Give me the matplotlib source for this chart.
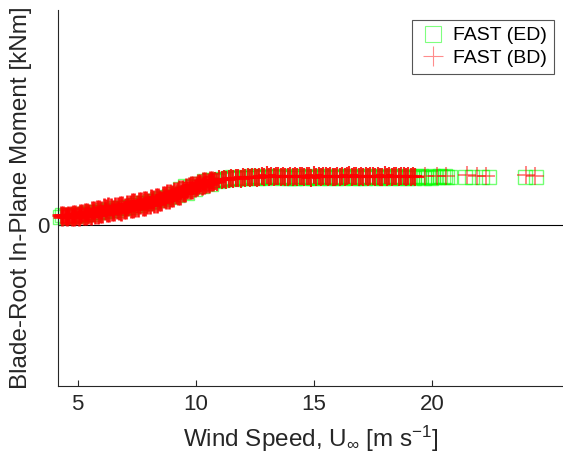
import matplotlib
matplotlib.use("Agg")
import matplotlib.pyplot as plt

plt.rcParams["font.family"] = ["Liberation Sans", "DejaVu Sans"]
plt.rcParams["mathtext.fontset"] = "custom"
plt.rcParams["mathtext.rm"] = "Liberation Sans"
plt.rcParams["mathtext.it"] = "Liberation Sans:italic"
plt.rcParams["mathtext.bf"] = "Liberation Sans:bold"

# ---- ElastoDyn blade model: wind speed [m/s] and in-plane root moment [kNm]
wind_ed = [
    4.25, 4.35, 4.45, 4.55, 4.65, 4.75, 4.85, 4.95, 5.05, 5.15,
    5.25, 5.35, 5.45, 5.55, 5.65, 5.75, 5.85, 5.95, 6.05, 6.15,
    6.25, 6.35, 6.45, 6.55, 6.65, 6.75, 6.85, 6.95, 7.05, 7.15,
    7.25, 7.35, 7.45, 7.55, 7.65, 7.75, 7.85, 7.95, 8.05, 8.15,
    8.25, 8.35, 8.45, 8.55, 8.65, 8.75, 8.85, 8.95, 9.05, 9.15,
    9.25, 9.35, 9.45, 9.55, 9.65, 9.75, 9.85, 9.95, 10.05, 10.15,
    10.25, 10.35, 10.45, 10.55, 10.65, 10.75, 10.85, 10.95, 11.05, 11.15,
    11.25, 11.35, 11.45, 11.55, 11.65, 11.75, 11.85, 11.95, 12.05, 12.15,
    12.25, 12.35, 12.45, 12.55, 12.65, 12.75, 12.85, 12.95, 13.05, 13.15,
    13.25, 13.35, 13.45, 13.55, 13.65, 13.75, 13.85, 13.95, 14.05, 14.15,
    14.25, 14.35, 14.45, 14.55, 14.65, 14.75, 14.85, 14.95, 15.05, 15.15,
    15.25, 15.35, 15.45, 15.55, 15.65, 15.75, 15.85, 15.95, 16.05, 16.15,
    16.25, 16.35, 16.45, 16.55, 16.65, 16.75, 16.85, 16.95, 17.05, 17.15,
    17.25, 17.35, 17.45, 17.55, 17.65, 17.75, 17.85, 17.95, 18.05, 18.15,
    18.25, 18.35, 18.45, 18.55, 18.65, 18.75, 18.85, 18.95, 19.05, 19.15,
    19.25, 19.35, 19.45, 19.55, 19.65, 19.75, 19.85, 19.95, 20.05, 20.15,
    20.25, 20.35, 20.45, 20.55, 20.65, 20.75,
    21.4, 21.7, 22.1, 22.4, 23.95, 24.4,
]
moment_ed = [
    420, 490, 452, 525, 400, 508, 488, 455, 545, 482,
    521, 590, 568, 638, 575, 661, 666, 646, 740, 702,
    707, 799, 761, 844, 756, 851, 850, 827, 925, 897,
    911, 1016, 985, 1079, 990, 1095, 1097, 1077, 1183, 1158,
    1176, 1284, 1259, 1361, 1290, 1410, 1428, 1424, 1547, 1538,
    1486, 1815, 1663, 1940, 1610, 1908, 1888, 1819, 2060, 1961,
    1972, 2185, 2096, 2265, 2070, 2240, 2230, 2196, 2318, 2271,
    2281, 2366, 2331, 2392, 2310, 2375, 2360, 2330, 2392, 2347,
    2370, 2440, 2390, 2450, 2350, 2420, 2400, 2360, 2430, 2380,
    2380, 2445, 2385, 2440, 2355, 2425, 2395, 2365, 2435, 2375,
    2365, 2435, 2395, 2450, 2345, 2415, 2405, 2370, 2440, 2385,
    2375, 2440, 2390, 2445, 2350, 2420, 2400, 2360, 2430, 2380,
    2370, 2450, 2385, 2440, 2355, 2425, 2395, 2365, 2435, 2375,
    2380, 2440, 2395, 2450, 2350, 2415, 2405, 2360, 2430, 2385,
    2370, 2445, 2390, 2440, 2345, 2420, 2400, 2370, 2440, 2380,
    2375, 2435, 2395, 2450, 2360, 2425, 2395, 2365, 2430, 2385,
    2380, 2440, 2390, 2430, 2400, 2410,
    2400, 2410, 2390, 2400, 2400, 2400,
]

# ---- BeamDyn blade model: wind speed [m/s] and in-plane root moment [kNm]
wind_bd = [
    4.30, 4.35, 4.40, 4.45, 4.50, 4.55, 4.60, 4.65, 4.70, 4.75,
    4.80, 4.85, 4.90, 4.95, 5.00, 5.05, 5.10, 5.15, 5.20, 5.25,
    5.30, 5.35, 5.40, 5.45, 5.50, 5.55, 5.60, 5.65, 5.70, 5.75,
    5.80, 5.85, 5.90, 5.95, 6.00, 6.05, 6.10, 6.15, 6.20, 6.25,
    6.30, 6.35, 6.40, 6.45, 6.50, 6.55, 6.60, 6.65, 6.70, 6.75,
    6.80, 6.85, 6.90, 6.95, 7.00, 7.05, 7.10, 7.15, 7.20, 7.25,
    7.30, 7.35, 7.40, 7.45, 7.50, 7.55, 7.60, 7.65, 7.70, 7.75,
    7.80, 7.85, 7.90, 7.95, 8.00, 8.05, 8.10, 8.15, 8.20, 8.25,
    8.30, 8.35, 8.40, 8.45, 8.50, 8.55, 8.60, 8.65, 8.70, 8.75,
    8.80, 8.85, 8.90, 8.95, 9.00, 9.05, 9.10, 9.15, 9.20, 9.25,
    9.30, 9.35, 9.40, 9.45, 9.50, 9.55, 9.60, 9.65, 9.70, 9.75,
    9.80, 9.85, 9.90, 9.95, 10.00, 10.05, 10.10, 10.15, 10.20, 10.25,
    10.30, 10.35, 10.40, 10.45, 10.50, 10.55, 10.60, 10.65, 10.70, 10.75,
    10.8, 10.9, 11.0, 11.1, 11.2, 11.3, 11.4, 11.5, 11.6, 11.7,
    11.8, 11.9, 12.0, 12.1, 12.2, 12.3, 12.4, 12.5, 12.6, 12.7,
    12.8, 12.9, 13.0, 13.1, 13.2, 13.3, 13.4, 13.5, 13.6, 13.7,
    13.8, 13.9, 14.0, 14.1, 14.2, 14.3, 14.4, 14.5, 14.6, 14.7,
    14.8, 14.9, 15.0, 15.1, 15.2, 15.3, 15.4, 15.5, 15.6, 15.7,
    15.8, 15.9, 16.0, 16.1, 16.2, 16.3, 16.4, 16.5, 16.6, 16.7,
    16.8, 16.9, 17.0, 17.1, 17.2, 17.3, 17.4, 17.5, 17.6, 17.7,
    17.8, 17.9, 18.0, 18.1, 18.2, 18.3, 18.4, 18.5, 18.6, 18.7,
    18.8, 18.9, 19.0, 19.1, 19.2, 19.3,
    19.7, 20.2, 20.6, 21.5, 21.9, 22.3, 24.0, 24.35,
]
moment_bd = [
    488, 420, 487, 432, 468, 423, 515, 460, 521, 424,
    560, 406, 562, 430, 520, 415, 613, 503, 614, 449,
    672, 435, 670, 484, 612, 471, 738, 590, 738, 517,
    816, 499, 814, 566, 736, 546, 878, 688, 858, 596,
    928, 576, 908, 646, 816, 628, 962, 774, 946, 686,
    1020, 670, 1004, 744, 916, 730, 1070, 882, 1061, 797,
    1144, 784, 1134, 865, 1048, 852, 1205, 1010, 1192, 923,
    1272, 911, 1259, 993, 1172, 984, 1332, 1143, 1325, 1062,
    1410, 1055, 1403, 1141, 1322, 1139, 1493, 1309, 1498, 1238,
    1596, 1240, 1600, 1337, 1528, 1344, 1705, 1523, 1713, 1462,
    1812, 1475, 1820, 1578, 1760, 1597, 1920, 1766, 1927, 1729,
    2008, 1760, 2019, 1856, 1988, 1881, 2103, 1998, 2115, 1972,
    2182, 1990, 2195, 2060, 2170, 2075, 2255, 2165, 2253, 2141,
    2216, 2170, 2320, 2250, 2318, 2258, 2322, 2361, 2306, 2356,
    2346, 2312, 2400, 2354, 2394, 2338, 2378, 2402, 2346, 2386,
    2430, 2380, 2480, 2400, 2460, 2390, 2440, 2470, 2400, 2450,
    2420, 2390, 2470, 2410, 2455, 2385, 2445, 2475, 2395, 2440,
    2435, 2375, 2480, 2405, 2460, 2395, 2430, 2470, 2410, 2450,
    2425, 2385, 2475, 2400, 2465, 2390, 2440, 2480, 2400, 2445,
    2430, 2380, 2470, 2410, 2455, 2395, 2435, 2475, 2405, 2450,
    2420, 2390, 2480, 2400, 2460, 2385, 2445, 2470, 2395, 2440,
    2430, 2380, 2475, 2405, 2460, 2400,
    2450, 2470, 2440, 2480, 2460, 2470, 2480, 2470,
]

x_ticks = [5, 10, 15, 20]
y_ticks = [0]
labels = ["FAST (ED)", "FAST (BD)"]

# BD samples: heavily over-plotted below rated, sparse in the high-wind tail
rated_speed = 10.8
tail_speed = 19.5

ink = "#262626"

fig = plt.figure(figsize=(5.63, 4.68), dpi=100)
ax = fig.add_axes([0.10302, 0.17521, 0.89698, 0.80342])

ax.axhline(0, color="black", lw=0.8, zorder=1)
ax.plot(wind_ed, moment_ed, linestyle="none", marker="s", ms=10,
        mfc="none", mec="#00ff00", mew=1.0, alpha=0.55, clip_on=False,
        label=labels[0], zorder=2)

pairs = list(zip(wind_bd, moment_bd))
below = [p for p in pairs if p[0] < rated_speed]
above = [p for p in pairs if rated_speed <= p[0] < tail_speed]
tail = [p for p in pairs if p[0] >= tail_speed]

ax.plot([p[0] for p in above], [p[1] for p in above], linestyle="none",
        marker="+", ms=12.5, mec="#ff0000", mew=1.5, alpha=0.85,
        clip_on=False, label=labels[1], zorder=3)
ax.plot([p[0] for p in below], [p[1] for p in below], linestyle="none",
        marker="+", ms=12.5, mec="#ff0000", mew=1.9, alpha=0.92,
        clip_on=False, zorder=3)
ax.plot([p[0] for p in tail], [p[1] for p in tail], linestyle="none",
        marker="+", ms=12.5, mec="#ff0000", mew=1.1, alpha=0.6,
        clip_on=False, zorder=3)

ax.set_xlim(4.17, 25.55)
ax.set_ylim(-8050, 10750)
ax.set_xticks(x_ticks)
ax.set_yticks(y_ticks)

for side in ("top", "right"):
    ax.spines[side].set_visible(False)
for side in ("left", "bottom"):
    ax.spines[side].set_color(ink)
    ax.spines[side].set_linewidth(0.8)

ax.tick_params(direction="in", length=4, width=0.8, colors=ink,
               labelsize=16, pad=6)

ax.set_xlabel(r"Wind Speed, U$_{\infty}$ [m s$^{-1}$]", fontsize=17.5,
              color=ink, labelpad=6)
ax.set_ylabel("Blade-Root In-Plane Moment [kNm]", fontsize=17.5,
              color=ink, labelpad=4)

leg = ax.legend(loc="upper right", bbox_to_anchor=(554 / 563, 1 - 20 / 468),
                bbox_transform=fig.transFigure, borderaxespad=0,
                fontsize=14, fancybox=False, framealpha=1,
                edgecolor="#555555", borderpad=0.35, labelspacing=0.25,
                handlelength=1.5, handletextpad=0.3)
leg.get_frame().set_linewidth(0.8)
handles = leg.legend_handles
handles[0].set_alpha(0.5)
handles[0].set_markersize(11)
handles[0].set_markeredgewidth(0.8)
handles[1].set_alpha(0.45)
handles[1].set_markersize(14.5)
handles[1].set_markeredgewidth(0.8)
for t in leg.get_texts():
    t.set_color("black")

fig.savefig("out.png", dpi=100)
